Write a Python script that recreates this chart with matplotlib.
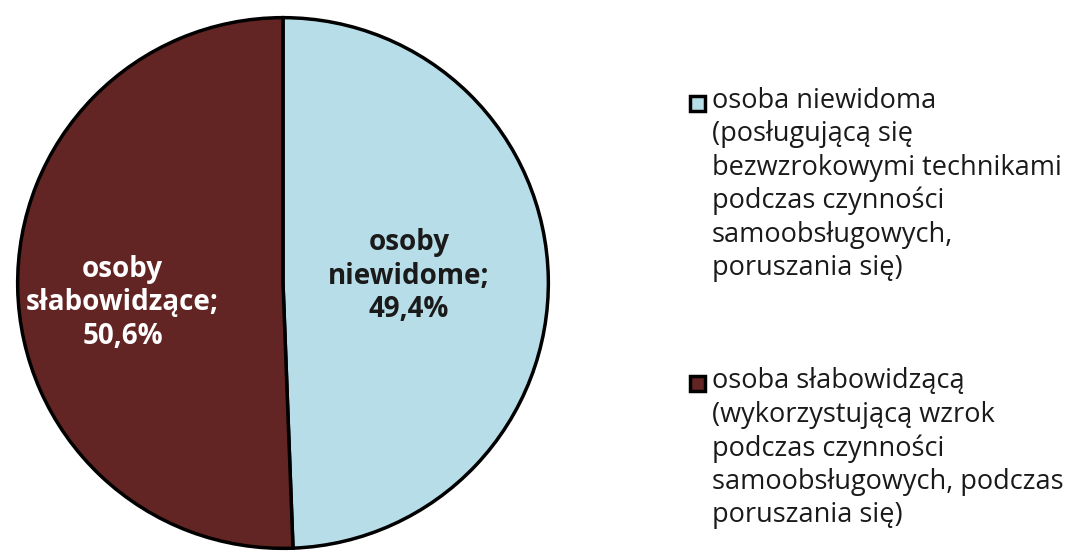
import matplotlib.pyplot as plt
from matplotlib.patches import Rectangle

plt.rcParams['font.family'] = ['Open Sans', 'DejaVu Sans']

categories = ['osoby\nniewidome', 'osoby\nsłabowidzące']
values = [49.4, 50.6]
value_labels = ['49,4%', '50,6%']
legend_labels = ['osoba niewidoma\n(posługującą się\nbezwzrokowymi technikami\npodczas czynności\nsamoobsługowych,\nporuszania się)',
                 'osoba słabowidzącą\n(wykorzystującą wzrok\npodczas czynności\nsamoobsługowych, podczas\nporuszania się)']
colors = ['#B7DEE8', '#632523']

fig = plt.figure(figsize=(10.68, 5.52), dpi=100)
W, H = 1068, 552
r = 268
cx, cy = 283, 283
ax = fig.add_axes([(cx - r) / W, (H - cy - r) / H, 2 * r / W, 2 * r / H])

wedges, _ = ax.pie(values, colors=colors, startangle=90, counterclock=False,
                   wedgeprops=dict(edgecolor='black', linewidth=2.5))
ax.set_xlim(-1.01, 1.01)
ax.set_ylim(-1.01, 1.01)
ax.set_aspect('equal')

label_pos = [(0.474, 0.026), (-0.604, -0.075)]
text_colors = ['#1a1a1a', 'white']
for (x, y), cat, vl, tc in zip(label_pos, categories, value_labels, text_colors):
    ax.text(x, y, cat + ';\n' + vl, ha='center', va='center', fontsize=20,
            fontweight='bold', color=tc, linespacing=1.2)

# legenda rysowana recznie: kwadrat + tekst wyrownany do gory
first_lines = [103, 383]
line_px = 32.6
for lab, c, y0 in zip(legend_labels, colors, first_lines):
    n = lab.count('\n') + 1
    yc = y0 + (n - 1) * line_px / 2
    fig.text(712 / W, 1 - yc / H, lab, ha='left', va='center', fontsize=19.5,
             color='#1a1a1a', linespacing=1.25)
    fig.add_artist(Rectangle((690 / W, 1 - 111 / H - (y0 - 103) / H), 15 / W, 15 / H,
                             transform=fig.transFigure, facecolor=c,
                             edgecolor='black', linewidth=2.5))

fig.savefig('out.png', dpi=100)
